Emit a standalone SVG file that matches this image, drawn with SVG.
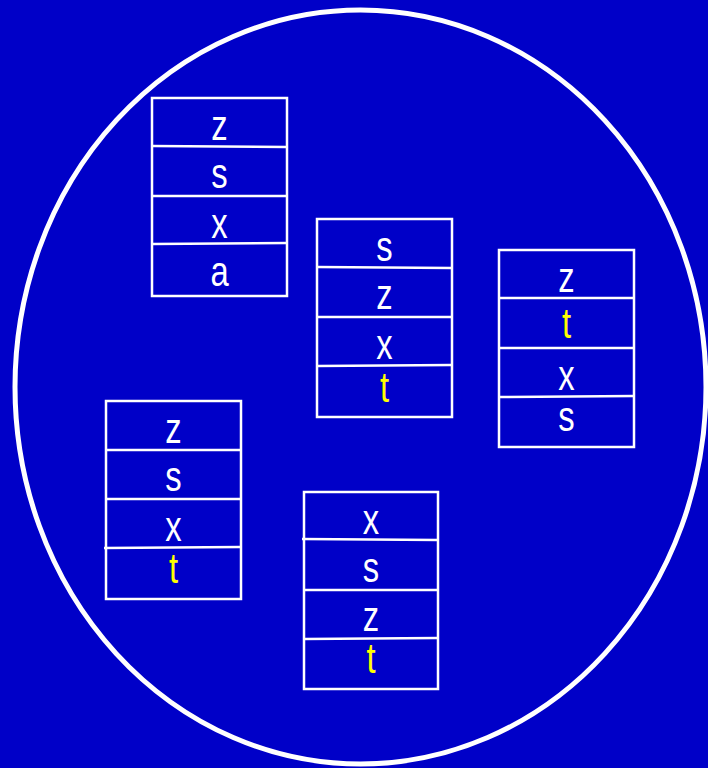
<svg xmlns="http://www.w3.org/2000/svg" width="708" height="768" viewBox="0 0 708 768">
<style>
.box{fill:none;stroke:#fff;stroke-width:2.5}
.div{stroke:#fff;stroke-width:2.5}
.t{font-family:"Liberation Sans",Arial,sans-serif;font-size:42px;fill:#fff;text-anchor:middle}
.y{fill:#ff0}
</style>
<rect x="0" y="0" width="708" height="768" fill="#0000C8"/>
<ellipse cx="360.5" cy="387" rx="345.5" ry="377" fill="none" stroke="#fff" stroke-width="5"/>
<g id="stack1">
<rect class="box" x="152" y="98" width="135" height="198"/>
<line class="div" x1="152" y1="146" x2="287" y2="147"/>
<line class="div" x1="152" y1="196" x2="287" y2="196"/>
<line class="div" x1="152" y1="244" x2="287" y2="243"/>
<text class="t" transform="translate(219.5,140) scale(0.78,1)">z</text>
<text class="t" transform="translate(219.5,188) scale(0.78,1)">s</text>
<text class="t" transform="translate(219.5,238) scale(0.78,1)">x</text>
<text class="t" transform="translate(219.5,286) scale(0.78,1)">a</text>
</g>
<g id="stack2">
<rect class="box" x="317" y="219" width="135" height="198"/>
<line class="div" x1="317" y1="267" x2="452" y2="268"/>
<line class="div" x1="317" y1="317" x2="452" y2="317"/>
<line class="div" x1="317" y1="366" x2="452" y2="365"/>
<text class="t" transform="translate(384.5,261) scale(0.78,1)">s</text>
<text class="t" transform="translate(384.5,309) scale(0.78,1)">z</text>
<text class="t" transform="translate(384.5,359) scale(0.78,1)">x</text>
<text class="t y" transform="translate(384.5,402) scale(0.78,1)">t</text>
</g>
<g id="stack3">
<rect class="box" x="499" y="250" width="135" height="197"/>
<line class="div" x1="499" y1="298" x2="634" y2="298"/>
<line class="div" x1="499" y1="348" x2="634" y2="348"/>
<line class="div" x1="499" y1="397" x2="634" y2="396"/>
<text class="t" transform="translate(566.5,292) scale(0.78,1)">z</text>
<text class="t y" transform="translate(566.5,338) scale(0.78,1)">t</text>
<text class="t" transform="translate(566.5,390) scale(0.78,1)">x</text>
<text class="t" transform="translate(566.5,431) scale(0.78,1)">s</text>
</g>
<g id="stack4">
<rect class="box" x="106" y="401" width="135" height="198"/>
<line class="div" x1="106" y1="450" x2="241" y2="450"/>
<line class="div" x1="106" y1="499" x2="241" y2="499"/>
<line class="div" x1="104" y1="548" x2="241" y2="547"/>
<text class="t" transform="translate(173.5,443) scale(0.78,1)">z</text>
<text class="t" transform="translate(173.5,491) scale(0.78,1)">s</text>
<text class="t" transform="translate(173.5,541) scale(0.78,1)">x</text>
<text class="t y" transform="translate(173.5,583) scale(0.78,1)">t</text>
</g>
<g id="stack5">
<rect class="box" x="304" y="492" width="134" height="197"/>
<line class="div" x1="302" y1="539" x2="438" y2="540"/>
<line class="div" x1="304" y1="590" x2="438" y2="590"/>
<line class="div" x1="304" y1="639" x2="438" y2="638"/>
<text class="t" transform="translate(371,534) scale(0.78,1)">x</text>
<text class="t" transform="translate(371,582) scale(0.78,1)">s</text>
<text class="t" transform="translate(371,631) scale(0.78,1)">z</text>
<text class="t y" transform="translate(371,673) scale(0.78,1)">t</text>
</g>
<g id="connectors"></g>
</svg>
